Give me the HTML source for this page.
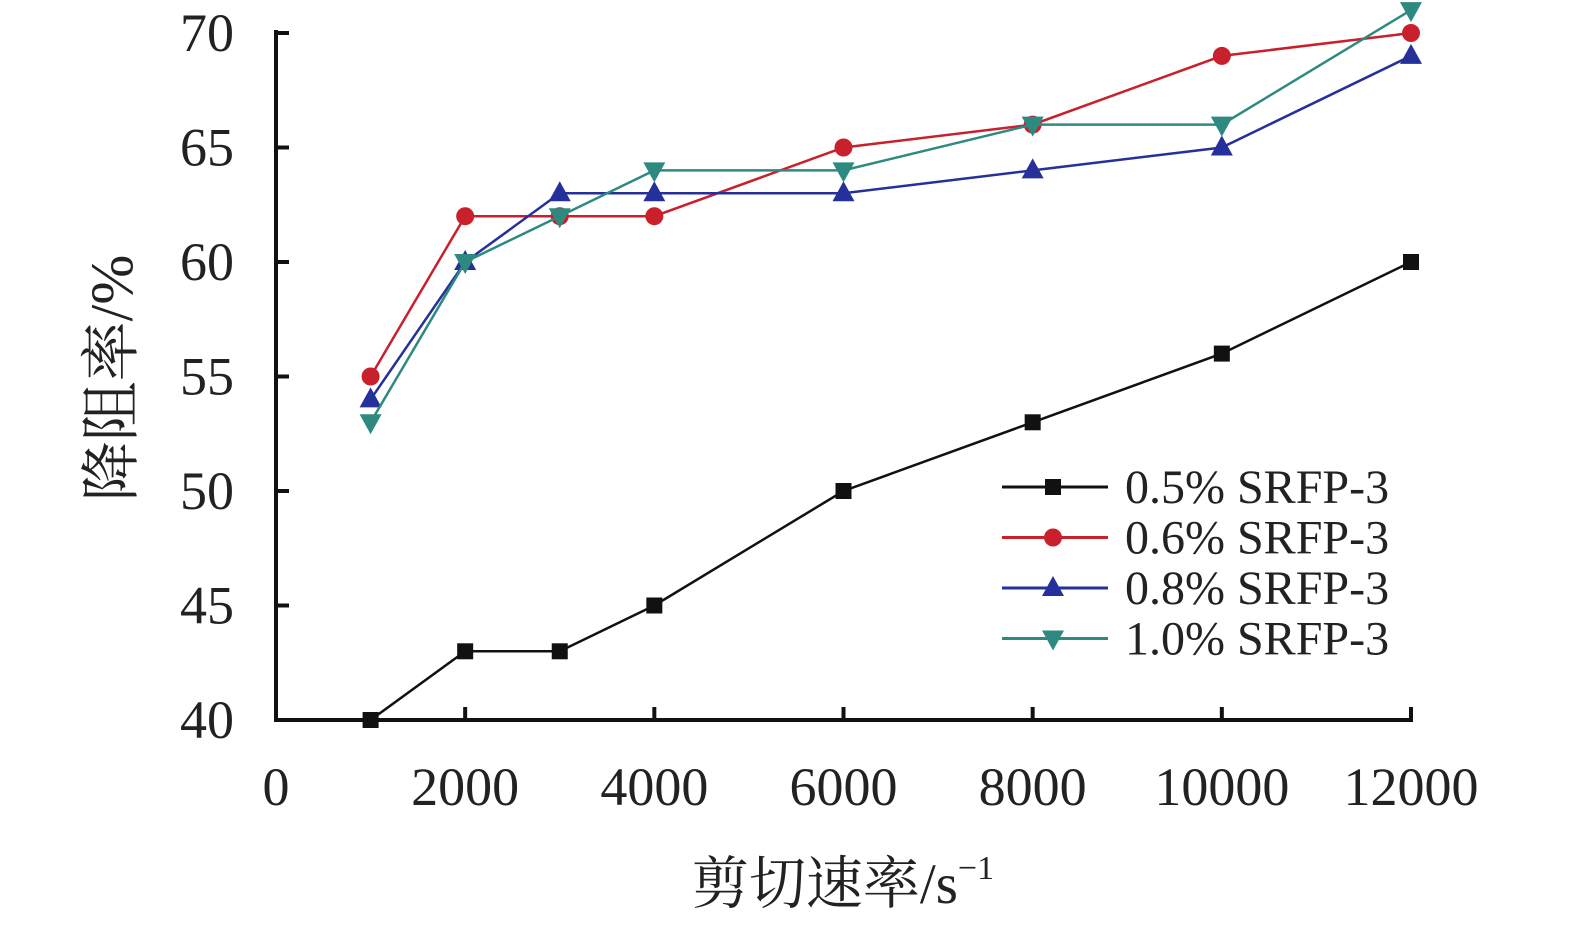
<!DOCTYPE html>
<html><head><meta charset="utf-8"><style>
body{margin:0;background:#fff;}
svg{display:block;font-family:"Liberation Serif","Noto Serif CJK SC",serif;}
</style></head><body>
<svg id="chart" width="1575" height="928" viewBox="0 0 1575 928">
<g id="axes"></g><g id="series"></g><g id="legend"></g>
<text x="843" y="903" font-size="57" text-anchor="middle" fill="#222">剪切速率/s<tspan font-size="34" dy="-24">−1</tspan></text>
<text transform="translate(132,378) rotate(-90)" font-size="60" text-anchor="middle" fill="#222">降阻率/%</text>
</svg>
<script>
const categories=[1000,2000,3000,4000,6000,8000,10000,12000];
const s05=[40,43,43,45,50,53,56,60];
const s06=[55,62,62,62,65,66,69,70];
const s08=[54,60,63,63,63,64,65,69];
const s10=[53,60,62,64,64,66,66,71];
const seriesNames=["0.5% SRFP-3","0.6% SRFP-3","0.8% SRFP-3","1.0% SRFP-3"];
const xTicks=[0,2000,4000,6000,8000,10000,12000];
const yTicks=[40,45,50,55,60,65,70];
const NS="http://www.w3.org/2000/svg";
const X0=276,X1=1411,Y0=720,Y1=33;
const xs=v=>X0+(v/12000)*(X1-X0);
const ys=v=>Y0-(v-40)/30*(Y0-Y1);
function mk(tag,attrs,parent){const e=document.createElementNS(NS,tag);for(const k in attrs)e.setAttribute(k,attrs[k]);parent.appendChild(e);return e;}
const axes=document.getElementById('axes');
let a=mk('line',{x1:X0,y1:Y1-3,x2:X0,y2:Y0+2,stroke:'#111','stroke-width':4},axes);


a=mk('line',{x1:X0-2,y1:Y0,x2:X1+2,y2:Y0,stroke:'#111','stroke-width':4},axes);


yTicks.forEach(v=>{
 const t=mk('line',{x1:X0,y1:ys(v),x2:X0+13,y2:ys(v),stroke:'#111','stroke-width':4},axes);
 
 
 const l=mk('text',{x:234,y:ys(v)+18,'font-size':54,'text-anchor':'end',fill:'#222'},axes);
 l.textContent=v;
 
 
});
xTicks.forEach(v=>{
 if(v>0){const t=mk('line',{x1:xs(v),y1:Y0,x2:xs(v),y2:Y0-13,stroke:'#111','stroke-width':4},axes);
 
 }
 const l=mk('text',{x:xs(v),y:805,'font-size':54,'text-anchor':'middle',fill:'#222'},axes);
 l.textContent=v;
 
 
});
const colors=['#111','#c8202c','#26309a','#2e8a80'];
const shapes=['square','circle','up','down'];
function marker(shape,x,y,c,p){
 let e;
 if(shape==='square')e=mk('rect',{x:x-8,y:y-8,width:16,height:16,fill:c},p);
 else if(shape==='circle')e=mk('circle',{cx:x,cy:y,r:9,fill:c},p);
 else if(shape==='up')e=mk('polygon',{points:`${x},${y-12} ${x-11},${y+8} ${x+11},${y+8}`,fill:c},p);
 else e=mk('polygon',{points:`${x},${y+12} ${x-11},${y-8} ${x+11},${y-8}`,fill:c},p);
 return e;
}
const data=[s05,s06,s08,s10];
const sg=document.getElementById('series');
data.forEach((vals,i)=>{
 const g=mk('g',{},sg);
 
 
 const ln=mk('polyline',{points:vals.map((v,j)=>xs(categories[j])+','+ys(v)).join(' '),fill:'none',stroke:colors[i],'stroke-width':2.5},g);
 
 
 vals.forEach((v,j)=>{
  const m=marker(shapes[i],xs(categories[j]),ys(v),colors[i],g);
  
  
 });
});
const lg=document.getElementById('legend');
seriesNames.forEach((n,i)=>{
 const y=487+i*50.5;
 const g=mk('g',{},lg);
 
 
 mk('line',{x1:1002,y1:y,x2:1108,y2:y,stroke:colors[i],'stroke-width':3},g);
 marker(shapes[i],1053,y,colors[i],g);
 const t=mk('text',{x:1125,y:y+16,'font-size':48,fill:'#222'},g);
 t.textContent=n;
});
</script>
</body></html>
